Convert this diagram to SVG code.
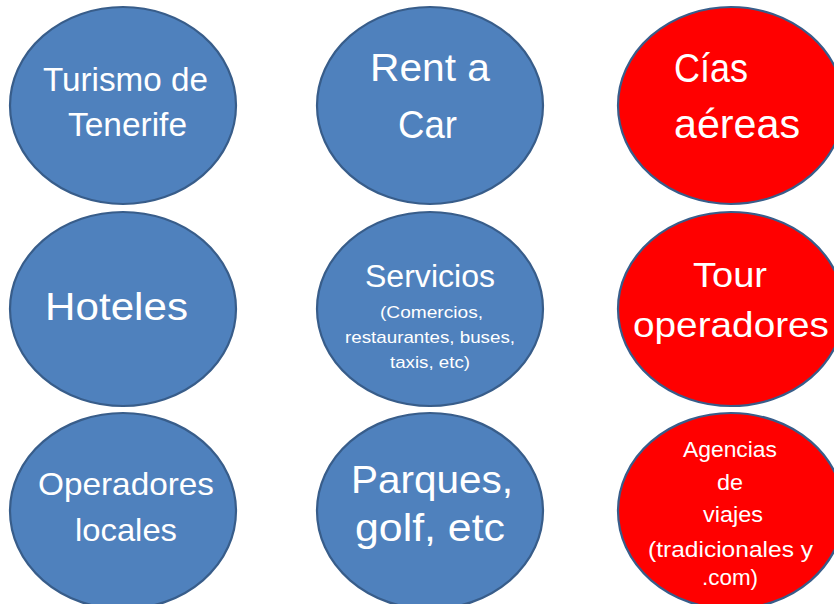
<svg xmlns="http://www.w3.org/2000/svg" width="834" height="604" viewBox="0 0 834 604">
<style>
.n{stroke:#385D8A;stroke-width:2.2}
.b{fill:#4F81BD}
.r{fill:#FF0000}
text{fill:#FFFFFF;font-family:"Liberation Sans",Arial,sans-serif;text-anchor:middle}
</style>
<rect width="834" height="604" fill="#FFFFFF"/>
<g id="connectors"></g>
<g id="n-turismo">
<ellipse class="n b" cx="123" cy="105.5" rx="113" ry="98.5"/>
<text x="125.5" y="91" font-size="33.5" textLength="165" lengthAdjust="spacingAndGlyphs">Turismo de</text>
<text x="127.5" y="136" font-size="33.5" textLength="119" lengthAdjust="spacingAndGlyphs">Tenerife</text>
</g>
<g id="n-rentacar">
<ellipse class="n b" cx="430" cy="105.5" rx="113" ry="98.5"/>
<text x="430" y="81" font-size="39" textLength="120" lengthAdjust="spacingAndGlyphs">Rent a</text>
<text x="427.5" y="138" font-size="39" textLength="59" lengthAdjust="spacingAndGlyphs">Car</text>
</g>
<g id="n-cias">
<ellipse class="n r" cx="731" cy="105.5" rx="113" ry="98.5"/>
<text x="711" y="82" font-size="40" textLength="74" lengthAdjust="spacingAndGlyphs">Cías</text>
<text x="737" y="138" font-size="40" textLength="126" lengthAdjust="spacingAndGlyphs">aéreas</text>
</g>
<g id="n-hoteles">
<ellipse class="n b" cx="123" cy="309" rx="113" ry="97"/>
<text x="116.5" y="320" font-size="39" textLength="143" lengthAdjust="spacingAndGlyphs">Hoteles</text>
</g>
<g id="n-servicios">
<ellipse class="n b" cx="430" cy="309" rx="113" ry="97"/>
<text x="430" y="287" font-size="31" textLength="130" lengthAdjust="spacingAndGlyphs">Servicios</text>
<text x="431.5" y="318" font-size="17" textLength="103" lengthAdjust="spacingAndGlyphs">(Comercios,</text>
<text x="430" y="343" font-size="17" textLength="170" lengthAdjust="spacingAndGlyphs">restaurantes, buses,</text>
<text x="430" y="368" font-size="17" textLength="80" lengthAdjust="spacingAndGlyphs">taxis, etc)</text>
</g>
<g id="n-tour">
<ellipse class="n r" cx="731" cy="309" rx="113" ry="97"/>
<text x="730" y="287" font-size="35" textLength="74" lengthAdjust="spacingAndGlyphs">Tour</text>
<text x="731" y="337" font-size="35" textLength="196" lengthAdjust="spacingAndGlyphs">operadores</text>
</g>
<g id="n-operadores">
<ellipse class="n b" cx="123" cy="511" rx="113" ry="98"/>
<text x="126" y="495" font-size="32" textLength="176" lengthAdjust="spacingAndGlyphs">Operadores</text>
<text x="126" y="541" font-size="32" textLength="102" lengthAdjust="spacingAndGlyphs">locales</text>
</g>
<g id="n-parques">
<ellipse class="n b" cx="430" cy="511" rx="113" ry="98"/>
<text x="432" y="493" font-size="39" textLength="162" lengthAdjust="spacingAndGlyphs">Parques,</text>
<text x="430" y="541" font-size="39" textLength="150" lengthAdjust="spacingAndGlyphs">golf, etc</text>
</g>
<g id="n-agencias">
<ellipse class="n r" cx="731" cy="511" rx="113" ry="98"/>
<text x="730" y="457" font-size="22" textLength="94" lengthAdjust="spacingAndGlyphs">Agencias</text>
<text x="730" y="490" font-size="22" textLength="26" lengthAdjust="spacingAndGlyphs">de</text>
<text x="733" y="522" font-size="22" textLength="60" lengthAdjust="spacingAndGlyphs">viajes</text>
<text x="730.5" y="557" font-size="22" textLength="165" lengthAdjust="spacingAndGlyphs">(tradicionales y</text>
<text x="730" y="585" font-size="22" textLength="56" lengthAdjust="spacingAndGlyphs">.com)</text>
</g>
</svg>
